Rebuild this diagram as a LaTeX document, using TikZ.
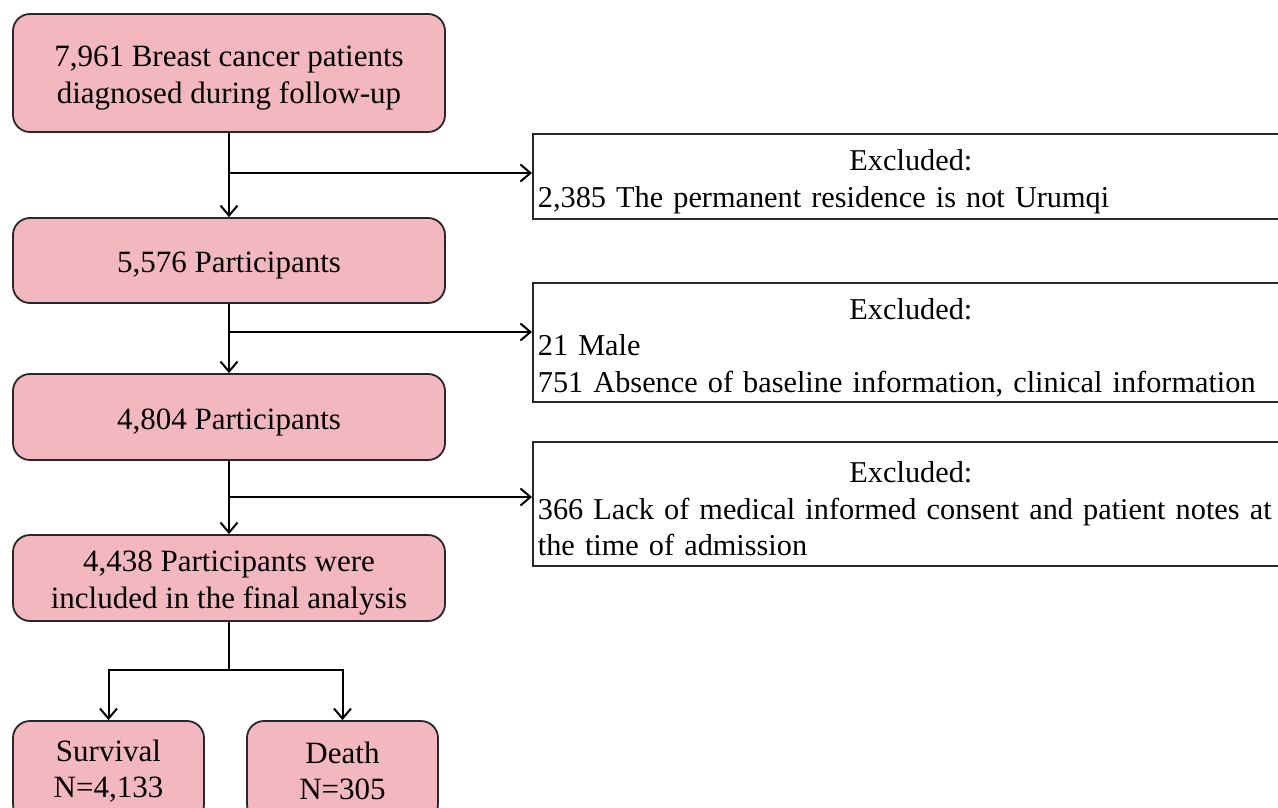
\documentclass[tikz,border=0pt]{standalone}
\usepackage{fontspec}
\setmainfont{Liberation Serif}
\usetikzlibrary{arrows.meta}
\definecolor{boxpink}{RGB}{243,183,192}
\definecolor{edge}{RGB}{40,40,40}
\newcommand\topstrut{\rule{0pt}{31pt}}
\begin{document}
\begin{tikzpicture}[x=1pt,y=-1pt,
  pinkbox/.style={draw=edge, line width=1.8pt, fill=boxpink, rounded corners=17pt,
    align=center, inner sep=0pt, font=\fontsize{31}{36.5}\selectfont},
  exbox/.style={draw=edge, line width=1.8pt, fill=white, align=left, inner xsep=5pt, inner ysep=0pt,
    text width=770pt, font=\fontsize{30.3}{36.5}\selectfont, anchor=west},
  arr/.style={draw=black, line width=2pt, -{Straight Barb[length=10pt,width=17pt,line width=2pt]}},
  ln/.style={draw=black, line width=2pt}]
\clip (0,0) rectangle (1278,808);
\fill[white] (0,0) rectangle (1278,808);
% main column
\node[pinkbox, minimum width=432pt, minimum height=118pt] (b1) at (229,73)
  {\topstrut 7,961 Breast cancer patients\\diagnosed during follow-up};
\node[pinkbox, minimum width=432pt, minimum height=85pt] (b2) at (229,260.5)
  {\topstrut 5,576 Participants};
\node[pinkbox, minimum width=432pt, minimum height=86pt] (b3) at (229,417)
  {\topstrut 4,804 Participants};
\node[pinkbox, minimum width=432pt, minimum height=86pt] (b4) at (229,578)
  {\topstrut 4,438 Participants were\\included in the final analysis};
\node[pinkbox, minimum width=191pt, minimum height=100pt] (sv) at (108.5,771)
  {Survival\\N=4,133};
\node[pinkbox, minimum width=191pt, minimum height=100pt] (dt) at (342.5,771)
  {Death\\N=305};
% exclusion boxes
\node[exbox, minimum height=85pt] (ex1) at (532,176.5)
  {\topstrut\makebox[746pt]{Excluded:}\\2,385 The permanent residence is not Urumqi};
\node[exbox, minimum height=119pt] (ex2) at (532,342.5)
  {\topstrut\makebox[746pt]{Excluded:}\\21 Male\\751 Absence of baseline information, clinical information};
\node[exbox, minimum height=124pt] (ex3) at (532,504)
  {\topstrut\makebox[746pt]{Excluded:}\\366 Lack of medical informed consent and patient notes at\\the time of admission};
% junctions
\coordinate (j1) at (229,173);
\coordinate (j2) at (229,332);
\coordinate (j3) at (229,497);
\coordinate (j4) at (229,670);
% connectors
\draw[arr] (b1.south) -- (b2.north);
\draw[arr] (b2.south) -- (b3.north);
\draw[arr] (b3.south) -- (b4.north);
\draw[arr] (j1) -- (j1 -| ex1.west);
\draw[arr] (j2) -- (j2 -| ex2.west);
\draw[arr] (j3) -- (j3 -| ex3.west);
\draw[ln] (b4.south) -- (j4);
\draw[arr] (j4) -| (sv.north);
\draw[arr] (j4) -| (dt.north);
\end{tikzpicture}
\end{document}
